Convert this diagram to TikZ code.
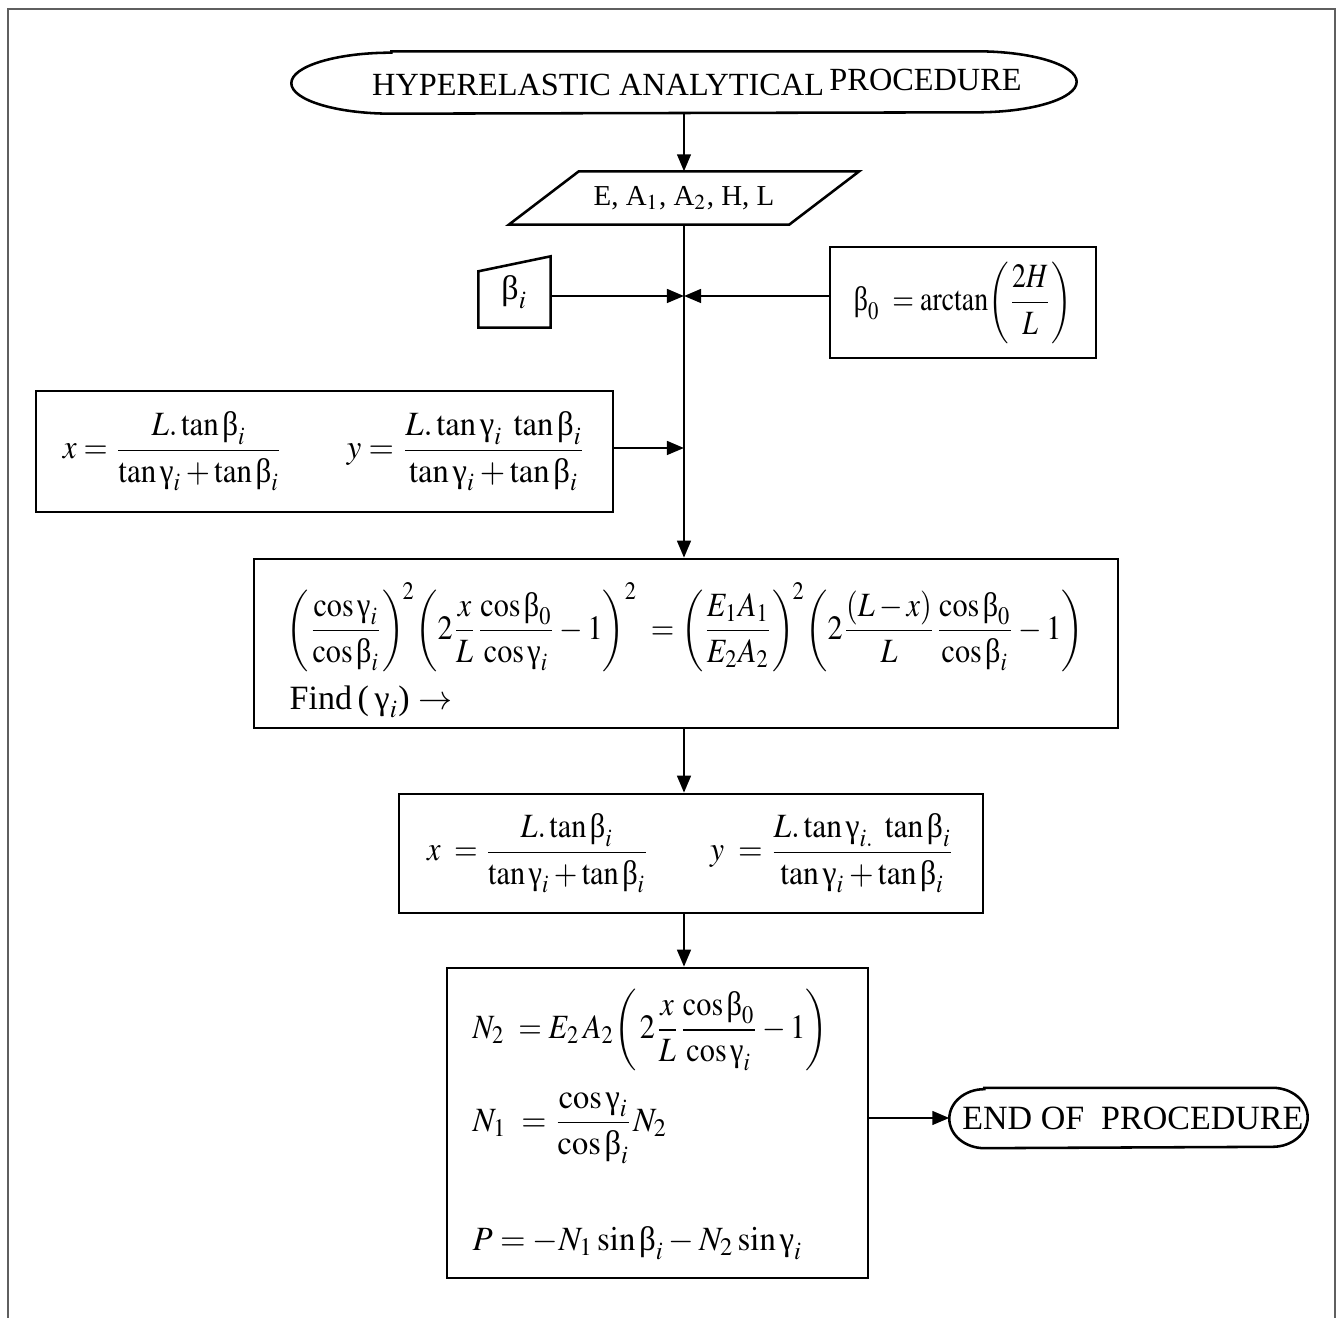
\documentclass[tikz,border=0pt]{standalone}
\usepackage{amsmath}
\usepackage{mathptmx}
\usepackage{graphicx}
\usepackage{fontspec}
\setmainfont{Liberation Serif}
\usetikzlibrary{arrows.meta,calc}
\newcommand\pxu{0.294pt}
\newcommand\myb{\text{β}}
\newcommand\myg{\text{γ}}
\newcommand\fitw[2]{\resizebox{#1}{\height}{#2}}
\tikzset{
  boxline/.style={draw=black, line width=0.75pt},
  plainbox/.style={boxline, rectangle, inner sep=0pt},
  hidden/.style={rectangle, inner sep=0pt, draw=none},
  txt/.style={inner sep=0pt, anchor=west},
  arr/.style={-{Triangle[length=5pt,width=4pt]}, line width=0.75pt},
  framec/.style={draw={rgb,255:red,95;green,95;blue,95}, line width=0.6pt}
}
\newcommand\termshape[3]{% node, cap width, half height
  \draw[boxline] ([xshift=#2*\pxu]#1.north west) -- ([xshift=-#2*\pxu]#1.north east)
    arc[start angle=90, end angle=-90, x radius=#2*\pxu, y radius=#3*\pxu]
    -- ([xshift=#2*\pxu]#1.south west)
    arc[start angle=270, end angle=90, x radius=#2*\pxu, y radius=#3*\pxu] -- cycle;}
\begin{document}
\begin{tikzpicture}[x=\pxu, y=-\pxu]
\useasboundingbox (0,0) rectangle (1336,1318);
% frame
\draw[framec] (8,1318) -- (8,9) -- (1335,9) -- (1335,1318);

% start terminator
\node[hidden, minimum width=784*\pxu, minimum height=61*\pxu] (start) at (684,82.5)
  {\fontsize{9.5}{11}\selectfont\hspace*{7.6pt}HYPERELASTIC ANALYTICAL\kern1.6pt\raisebox{1.2pt}{PROCEDURE}};
\termshape{start}{100}{30.5}

% input parallelogram
\node[hidden, minimum width=279*\pxu, minimum height=52*\pxu] (inp) at (684,198)
  {\fontsize{8.5}{10}\selectfont E, A$_1$, A$_2$, H, L};
\draw[boxline] ([xshift=35*\pxu]inp.north west) -- ([xshift=35*\pxu]inp.north east)
  -- ([xshift=-35*\pxu]inp.south east) -- ([xshift=-35*\pxu]inp.south west) -- cycle;

% beta_i manual input
\node[hidden, minimum width=71*\pxu, minimum height=70*\pxu] (bi) at (514.5,292)
  {\raisebox{-2.4pt}{$\myb_i$}};
\draw[boxline] (bi.south west) -- ([yshift=-15*\pxu]bi.north west) -- (bi.north east)
  -- (bi.south east) -- cycle;

% beta_0 box
\node[plainbox, minimum width=266*\pxu, minimum height=111*\pxu] (b0) at (963,302.5)
  {\fitw{64.1pt}{$\myb_0\;=\arctan\!\left(\dfrac{2H}{L}\right)$}};

% junctions on the spine
\coordinate (j1) at (684,296);
\coordinate (j2) at (684,448);

% x,y box 1
\node[plainbox, minimum width=577*\pxu, minimum height=121*\pxu] (xy1) at (324.5,451.5)
  {\fitw{64.7pt}{$x=\dfrac{L.\tan\myb_i}{\tan\myg_i+\tan\myb_i}$}\hspace{18.8pt}%
   \fitw{70.3pt}{$y=\dfrac{L.\tan\myg_i\;\tan\myb_i}{\tan\myg_i+\tan\myb_i}$}};

% equation box
\node[plainbox, minimum width=864*\pxu, minimum height=169*\pxu] (eq) at (686,643.5) {};
\node[txt] (eql) at (286,627)
  {\fitw{234.3pt}{$\left(\dfrac{\cos\myg_i}{\cos\myb_i}\right)^{\!2}\!\left(2\dfrac{x}{L}\dfrac{\cos\myb_0}{\cos\myg_i}-1\right)^{2}\;=\left(\dfrac{E_1A_1}{E_2A_2}\right)^{\!2}\!\left(2\dfrac{(L-x)}{L}\dfrac{\cos\myb_0}{\cos\myb_i}-1\right)$}};
\node[txt] (find) at (289,702) {Find\,(\,$\myg_i$) $\rightarrow$};

% x,y box 2
\node[plainbox, minimum width=584*\pxu, minimum height=119*\pxu] (xy2) at (691,853.5)
  {\fitw{65.3pt}{$x\;=\dfrac{L.\tan\myb_i}{\tan\myg_i+\tan\myb_i}$}\hspace{17.9pt}%
   \fitw{72pt}{$y\;=\dfrac{L.\tan\myg_{i.}\;\tan\myb_i}{\tan\myg_i+\tan\myb_i}$}};

% final box
\node[plainbox, minimum width=421*\pxu, minimum height=310*\pxu] (fin) at (657.5,1123) {};
\node[txt] (n2) at (472,1030)
  {\fitw{104.4pt}{$N_2\;=E_2\,A_2\!\left(\,2\dfrac{x}{L}\dfrac{\cos\myb_0}{\cos\myg_i}-1\right)$}};
\node[txt] (n1) at (472,1128)
  {\fitw{57.3pt}{$N_1\;=\dfrac{\cos\myg_i}{\cos\myb_i}N_2$}};
\node[txt] (pl) at (472,1243)
  {\fitw{97pt}{$P=-N_1\sin\myb_i-N_2\sin\myg_i$}};

% end terminator
\node[hidden, minimum width=357*\pxu, minimum height=59*\pxu] (endt) at (1128.5,1118)
  {\hspace*{2.6pt}END OF\ \ PROCEDURE};
\termshape{endt}{35}{29.5}

% connectors
\draw[arr] (start.south) -- (inp.north);
\draw[arr] (bi.east |- j1) -- (j1);
\draw[arr] (b0.west |- j1) -- (j1);
\draw[arr] (xy1.east |- j2) -- (j2);
\draw[arr] (inp.south) -- (inp.south |- eq.north);
\draw[arr] (eq.south -| j1) -- (xy2.north -| j1);
\draw[arr] (xy2.south -| j1) -- (fin.north -| j1);
\draw[arr] (fin.east |- endt.west) -- (endt.west);
\end{tikzpicture}
\end{document}
